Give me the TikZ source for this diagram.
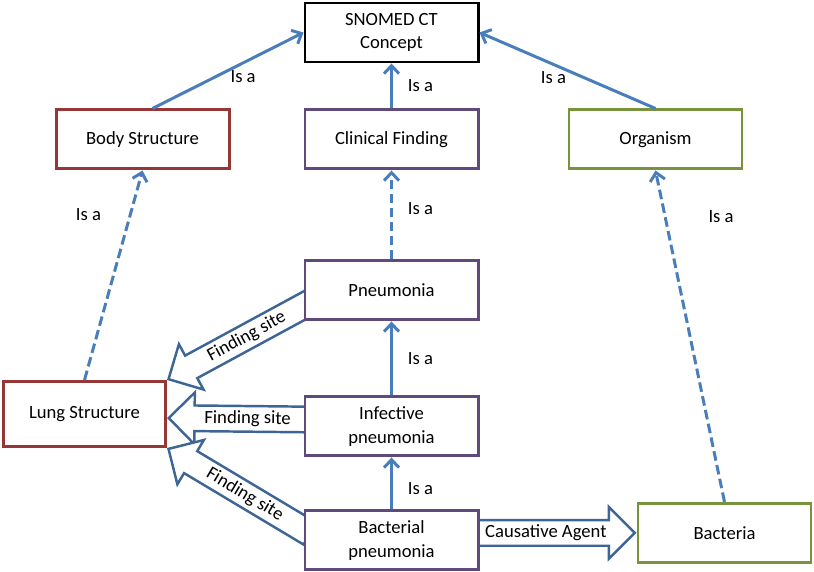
\documentclass[tikz,border=0pt]{standalone}
\usepackage{fontspec}
\setmainfont{Carlito}
\usepackage{tikz}
\usetikzlibrary{arrows.meta,positioning,shapes.arrows,backgrounds,calc}

\definecolor{isablue}{HTML}{4A7EBB}
\definecolor{blockblue}{HTML}{3D6596}
\definecolor{bodyred}{HTML}{953735}
\definecolor{findpurple}{HTML}{604A7B}
\definecolor{orggreen}{HTML}{77933C}

\begin{document}
\begin{tikzpicture}[
    font=\fontsize{10.6}{13.5}\selectfont,
    concept/.style={draw, line width=1.7pt, fill=white, align=center, minimum width=3.46cm, minimum height=1.18cm},
    isa/.style={-{Straight Barb[length=1.6mm, width=3mm]}, line width=1.7pt, draw=isablue},
    isadash/.style={isa, dash pattern=on 5.5pt off 2.5pt},
    relarrow/.style={single arrow, draw=blockblue, fill=white, line width=1.4pt, single arrow head extend=0.26cm, inner xsep=0pt, inner ysep=2pt, minimum height=3.3cm}
]
    \useasboundingbox (0,0) rectangle (16.28,-11.44);

    % concept boxes
    \node[concept, draw=black] (snomed) at (7.83,-0.65) {SNOMED CT\\Concept};
    \node[concept, draw=findpurple, below=0.9cm of snomed] (clinical) {Clinical Finding};
    \node[concept, draw=bodyred, left=1.46cm of clinical] (body) {Body Structure};
    \node[concept, draw=orggreen, right=1.76cm of clinical] (organism) {Organism};
    \node[concept, draw=findpurple, below=1.78cm of clinical] (pneumonia) {Pneumonia};
    \node[concept, draw=findpurple, below=1.48cm of pneumonia] (infective) {Infective\\pneumonia};
    \node[concept, draw=findpurple, below=1.04cm of infective] (bacterial) {Bacterial\\pneumonia};
    \node[concept, draw=bodyred, minimum width=3.24cm, minimum height=1.3cm] (lung) at (1.69,-8.28) {Lung Structure};
    \node[concept, draw=orggreen, right=3.14cm of bacterial, yshift=0.15cm] (bacteria) {Bacteria};

    % is-a links
    \draw[isa] ([xshift=0.2cm]body.north) -- node[below, pos=0.6] {Is a} (snomed.west);
    \draw[isa] (clinical) -- node[right, xshift=0.18cm] {Is a} (snomed);
    \draw[isa] (organism.north) -- node[below, pos=0.58] {Is a} (snomed.east);
    \draw[isadash] (pneumonia) -- node[right, pos=0.57, xshift=0.18cm] {Is a} (clinical);
    \draw[isa] (infective) -- node[right, xshift=0.18cm] {Is a} (pneumonia);
    \draw[isa] (bacterial) -- node[right, pos=0.4, xshift=0.18cm] {Is a} (infective);
    \draw[isadash] (lung.north) -- node[left, pos=0.79, xshift=-0.44cm] {Is a} (body.south);
    \draw[isadash] (bacteria.north) -- node[right, pos=0.86, xshift=0.72cm] {Is a} (organism.south);

    % attribute links
    \begin{scope}[on background layer]
        \path (lung.north east) -- node[relarrow, shape border rotate=180, sloped, pos=0, anchor=tip] {Finding site} ($(pneumonia.west)!0.5!(pneumonia.south west)$);
        \path ([yshift=-0.08cm]lung.east) -- node[relarrow, shape border rotate=180, sloped, pos=0, anchor=tip, minimum height=2.9cm] {Finding site} ([yshift=0.14cm]infective.west);
        \path (lung.south east) -- node[relarrow, shape border rotate=180, sloped, pos=0, anchor=tip] {Finding site} ($(bacterial.west)!0.35!(bacterial.north west)$);
        \path (bacteria.west) -- node[relarrow, pos=0, anchor=tip] {Causative Agent} (bacterial.east |- bacteria.west);
    \end{scope}
\end{tikzpicture}
\end{document}
